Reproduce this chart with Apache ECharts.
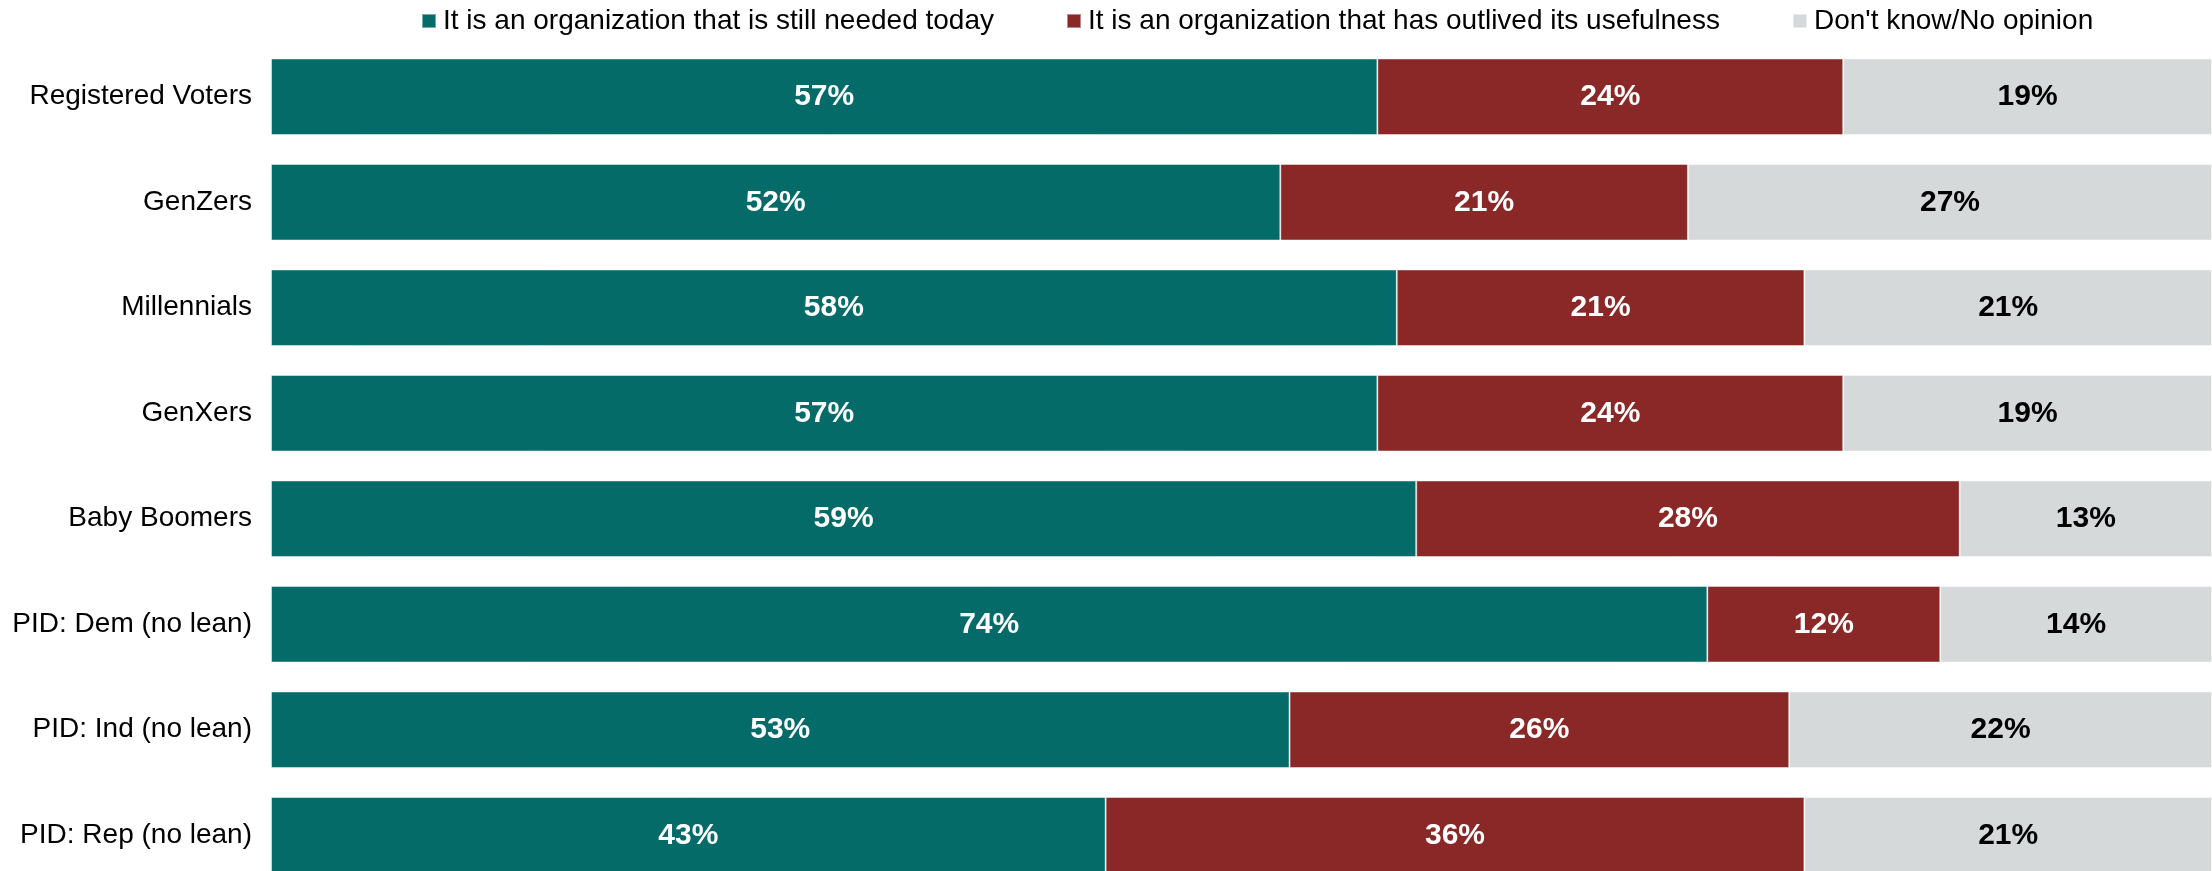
<!DOCTYPE html>
<html>
<head>
<meta charset="utf-8">
<script src="https://cdn.jsdelivr.net/npm/echarts@6/dist/echarts.min.js"></script>
<style>
html,body{margin:0;padding:0;background:#fff;}
#chart{width:2212px;height:871px;}
</style>
</head>
<body>
<div id="chart"></div>
<script>
const categories = ['Registered Voters','GenZers','Millennials','GenXers','Baby Boomers','PID: Dem (no lean)','PID: Ind (no lean)','PID: Rep (no lean)'];
const seriesNames = ['It is an organization that is still needed today','It is an organization that has outlived its usefulness',"Don't know/No opinion"];
const needed = [57,52,58,57,59,74,53,43];
const outlived = [24,21,21,24,28,12,26,36];
const dontKnow = [19,27,21,19,13,14,22,21];
const colors = ['#046B69','#8A2727','#D5D9DA'];
const labelColors = ['#ffffff','#ffffff','#000000'];

// 100% stacked: each row normalized to its total (as in the source chart)
const raw = [needed, outlived, dontKnow];
const totals = categories.map((_, i) => raw.reduce((s, arr) => s + arr[i], 0));

const FONT = '"Liberation Sans", Arial, sans-serif';

const chart = echarts.init(document.getElementById('chart'));
chart.setOption({
  animation: false,
  textStyle: { fontFamily: FONT },
  legend: {
    top: 2,
    left: 416,
    itemWidth: 14,
    itemHeight: 14,
    itemGap: 72,
    icon: 'rect',
    textStyle: { fontSize: 28, color: '#000', fontFamily: FONT, padding: [0,0,0,2] },
    data: seriesNames
  },
  grid: { left: 271, right: 0, top: 44, height: 844, containLabel: false, outerBoundsMode: 'none' },
  xAxis: {
    type: 'value', min: 0, max: 100, show: false
  },
  yAxis: {
    type: 'category',
    data: categories,
    inverse: true,
    axisLine: { show: false },
    axisTick: { show: false },
    splitLine: { show: false },
    axisLabel: { fontSize: 28, color: '#000', margin: 19, fontFamily: FONT }
  },
  series: raw.map((arr, k) => ({
    name: seriesNames[k],
    type: 'bar',
    stack: 'total',
    barCategoryGap: '27.5%',
    itemStyle: { color: colors[k], borderColor: 'rgba(255,255,255,0.45)', borderWidth: 1 },
    label: {
      show: true,
      position: 'inside',
      fontSize: 30,
      fontWeight: 'bold',
      color: labelColors[k],
      fontFamily: FONT,
      formatter: p => arr[p.dataIndex] + '%'
    },
    data: arr.map((v, i) => v / totals[i] * 100)
  }))
});
</script>
</body>
</html>
